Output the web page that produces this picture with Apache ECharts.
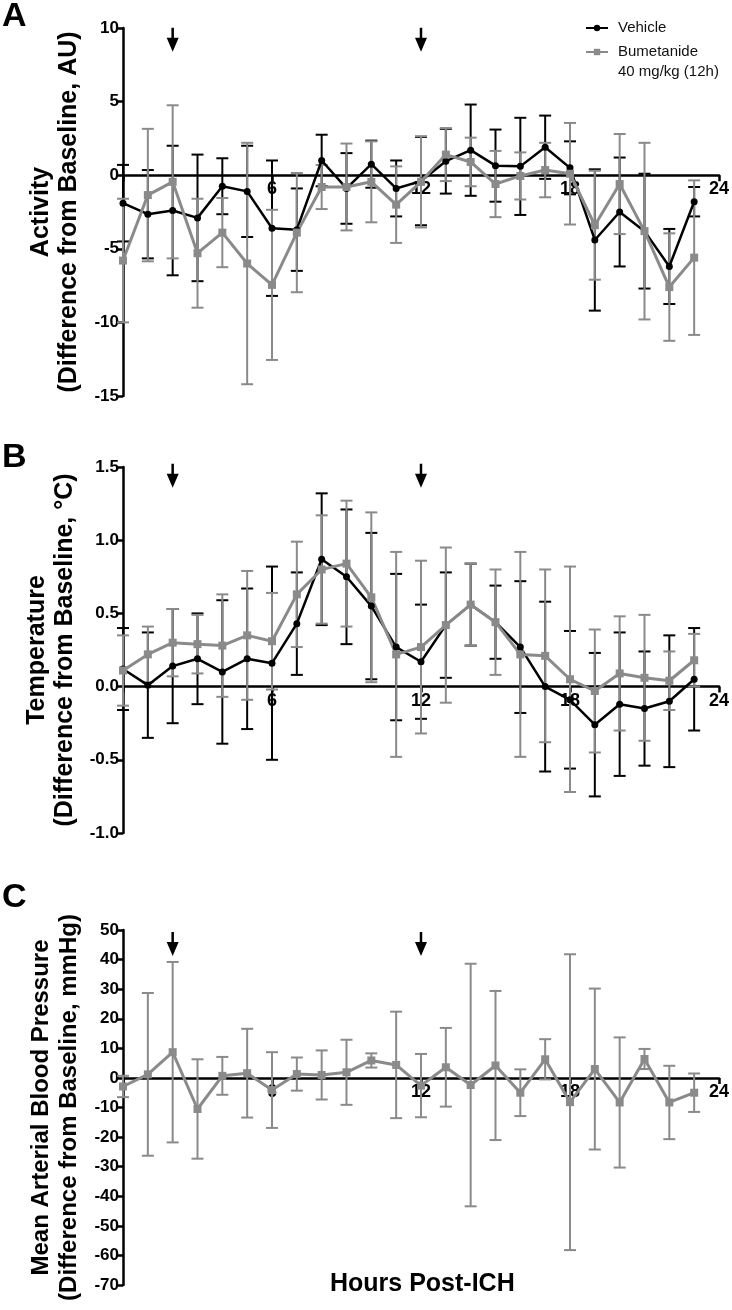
<!DOCTYPE html>
<html>
<head>
<meta charset="utf-8">
<script src="https://cdn.jsdelivr.net/npm/echarts@6/dist/echarts.min.js"></script>
<style>
  html, body { margin: 0; padding: 0; background: #fff; }
  #chart { width: 732px; height: 1310px; }
</style>
</head>
<body>
<div id="chart"></div>
<script>
// ---------- DATA ----------
const hours = [0,1,2,3,4,5,6,7,8,9,10,11,12,13,14,15,16,17,18,19,20,21,22,23];
const xTicks = [6, 12, 18, 24];
const arrowHours = [2, 12];

// Panel A: Activity (difference from baseline, AU), mean and SEM
const actVehicle    = [-1.9, -2.65, -2.4, -2.9, -0.75, -1.1, -3.6, -3.7, 1.0, -0.9, 0.75, -0.9, -0.4, 0.95, 1.7, 0.65, 0.6, 1.9, 0.5, -4.4, -2.5, -3.8, -6.2, -1.8];
const actVehicleSem = [2.6, 3.0, 4.4, 4.3, 1.9, 3.1, 4.6, 2.8, 1.75, 2.4, 1.6, 1.9, 3.0, 2.2, 3.1, 2.45, 3.3, 2.15, 1.8, 4.8, 3.7, 3.9, 2.55, 1.0];
const actBumet      = [-5.8, -1.35, -0.45, -5.3, -3.9, -6.0, -7.45, -3.9, -0.8, -0.8, -0.45, -2.0, -0.45, 1.4, 0.9, -0.6, -0.05, 0.35, 0.1, -3.4, -0.6, -3.8, -7.6, -5.6];
const actBumetSem   = [4.2, 4.5, 5.2, 3.7, 2.35, 8.2, 5.1, 4.05, 1.5, 2.95, 2.75, 2.6, 3.1, 1.8, 1.65, 2.25, 1.6, 1.85, 3.45, 3.7, 3.4, 6.0, 3.65, 5.25];

// Panel B: Temperature (difference from baseline, °C)
const tempVehicle    = [0.12, 0.01, 0.14, 0.19, 0.10, 0.19, 0.16, 0.43, 0.87, 0.75, 0.55, 0.27, 0.17, 0.42, 0.56, 0.44, 0.27, 0.0, -0.09, -0.26, -0.12, -0.15, -0.10, 0.05];
const tempVehicleSem = [0.28, 0.36, 0.39, 0.31, 0.49, 0.48, 0.66, 0.35, 0.45, 0.46, 0.50, 0.50, 0.39, 0.36, 0.28, 0.25, 0.45, 0.58, 0.47, 0.49, 0.49, 0.39, 0.45, 0.35];
const tempBumet      = [0.11, 0.22, 0.30, 0.29, 0.28, 0.35, 0.31, 0.63, 0.80, 0.84, 0.61, 0.22, 0.27, 0.42, 0.56, 0.44, 0.22, 0.21, 0.05, -0.03, 0.09, 0.06, 0.04, 0.18];
const tempBumetSem   = [0.24, 0.19, 0.23, 0.20, 0.35, 0.44, 0.33, 0.36, 0.37, 0.43, 0.58, 0.70, 0.59, 0.53, 0.28, 0.36, 0.70, 0.59, 0.77, 0.42, 0.39, 0.43, 0.20, 0.18];

// Panel C: Mean arterial blood pressure (difference from baseline, mmHg)
const mapBumet    = [-2.9, 1.2, 8.7, -10.5, 0.7, 1.6, -4.1, 1.3, 1.0, 1.9, 5.9, 4.4, -2.6, 3.6, -2.4, 4.2, -5.0, 6.3, -8.2, 3.0, -8.3, 6.4, -8.3, -5.0];
const mapBumetSem = [3.6, 27.5, 30.5, 16.8, 6.4, 15.0, 12.8, 5.6, 8.3, 11.0, 2.4, 18.0, 10.7, 13.3, 41.0, 25.2, 7.9, 6.8, 50.0, 27.2, 22.0, 3.4, 12.4, 6.5];

const VEH = 'Vehicle';
const BUM = 'Bumetanide 40 mg/kg (12h)';

// ---------- STYLE / LAYOUT ----------
const FONT = '"Liberation Sans", Arial, Helvetica, sans-serif';
const BLACK = '#000000';
const GRAY = '#8a8a8a';

const grids = [
  { left: 123, top: 28, width: 599, height: 368 },
  { left: 123, top: 467, width: 599, height: 366 },
  { left: 123, top: 930, width: 599, height: 355 }
];
const yRanges = [[-15, 10, 5], [-1, 1.5, 0.5], [-70, 50, 10]];

function pairs(xs, ys) { return xs.map((x, i) => [x, ys[i]]); }
function errData(xs, m, s) { return xs.map((x, i) => [x, m[i] - s[i], m[i] + s[i]]); }

function errSeries(idx, data, color) {
  return {
    type: 'custom', name: 'err', xAxisIndex: idx, yAxisIndex: idx, silent: true,
    encode: { x: 0, y: [1, 2] },
    data: data,
    renderItem: function (params, api) {
      const x = api.value(0);
      const lo = api.coord([x, api.value(1)]);
      const hi = api.coord([x, api.value(2)]);
      const hw = 6;
      const st = { stroke: color, lineWidth: 2 };
      return {
        type: 'group',
        children: [
          { type: 'line', shape: { x1: lo[0], y1: lo[1], x2: hi[0], y2: hi[1] }, style: st },
          { type: 'line', shape: { x1: lo[0] - hw, y1: lo[1], x2: lo[0] + hw, y2: lo[1] }, style: st },
          { type: 'line', shape: { x1: hi[0] - hw, y1: hi[1], x2: hi[0] + hw, y2: hi[1] }, style: st }
        ]
      };
    }
  };
}

function lineSeries(idx, name, data, color, symbol, size, width) {
  return {
    type: 'line', name: name, xAxisIndex: idx, yAxisIndex: idx,
    data: data, symbol: symbol, symbolSize: size, showSymbol: true,
    lineStyle: { color: color, width: width },
    itemStyle: { color: color, opacity: 1 },
    emphasis: { disabled: true }
  };
}

const ARROW = 'path://M4.75,0 L7.25,0 L7.25,10 L12,10 L6,24 L0,10 L4.75,10 Z';
function arrowSeries(idx, level) {
  return {
    type: 'scatter', name: 'arrows', xAxisIndex: idx, yAxisIndex: idx, silent: true,
    symbol: ARROW, symbolSize: [12, 24],
    itemStyle: { color: BLACK, opacity: 1 },
    data: arrowHours.map(h => [h, level])
  };
}

// x axis sits on y = 0 (labels move with it), like the original figure
function xAxis(idx) {
  const g = grids[idx], r = yRanges[idx];
  const zeroFromBottom = g.height * (0 - r[0]) / (r[1] - r[0]);
  return {
    gridIndex: idx, type: 'value', min: 0, max: 24, interval: 6,
    offset: -zeroFromBottom,
    axisLine: { show: true, onZero: false, lineStyle: { color: BLACK, width: 2.5 } },
    axisTick: { show: true, length: 6, lineStyle: { color: BLACK, width: 2.5 } },
    axisLabel: {
      color: BLACK, fontSize: 18, fontWeight: 'bold', fontFamily: FONT, margin: 5,
      formatter: v => (xTicks.indexOf(v) >= 0 ? String(v) : '')
    },
    splitLine: { show: false }
  };
}

function yAxis(idx, name, nameSize, fmt) {
  const r = yRanges[idx];
  return {
    gridIndex: idx, type: 'value', min: r[0], max: r[1], interval: r[2],
    axisLine: { show: true, onZero: false, lineStyle: { color: BLACK, width: 2.5 } },
    axisTick: { show: true, length: 6, lineStyle: { color: BLACK, width: 2.5 } },
    axisLabel: { color: BLACK, fontSize: 17, fontWeight: 'bold', fontFamily: FONT, margin: 4, formatter: fmt },
    splitLine: { show: false },
    name: name, nameLocation: 'middle', nameGap: 40,
    nameTextStyle: { color: BLACK, fontSize: nameSize, fontWeight: 'bold', fontFamily: FONT, lineHeight: 28 }
  };
}

const option = {
  animation: false,
  backgroundColor: '#ffffff',
  textStyle: { fontFamily: FONT },
  grid: grids,
  xAxis: [xAxis(0), xAxis(1), xAxis(2)],
  yAxis: [
    yAxis(0, 'Activity\n(Difference from Baseline, AU)', 25, v => String(v)),
    yAxis(1, 'Temperature\n(Difference from Baseline, °C)', 25, v => v.toFixed(1)),
    yAxis(2, 'Mean Arterial Blood Pressure\n(Difference from Baseline, mmHg)', 24, v => String(v))
  ],
  legend: {
    left: 585, top: 18, orient: 'vertical', padding: 0, itemGap: -16,
    itemWidth: 22, itemHeight: 8, selectedMode: false,
    textStyle: { color: '#111', fontSize: 15, lineHeight: 20, fontFamily: FONT, padding: [0, 0, 0, 5] },
    data: [VEH, BUM],
    formatter: function (name) {
      return name === BUM ? ' \nBumetanide\n40 mg/kg (12h)' : name;
    }
  },
  graphic: [
    { type: 'text', left: 2, top: 0, style: { text: 'A', font: 'bold 34px ' + FONT, fill: BLACK } },
    { type: 'text', left: 2, top: 441, style: { text: 'B', font: 'bold 34px ' + FONT, fill: BLACK } },
    { type: 'text', left: 2, top: 881, style: { text: 'C', font: 'bold 34px ' + FONT, fill: BLACK } },
    { type: 'text', left: 330, top: 1272, style: { text: 'Hours Post-ICH', font: 'bold 25px ' + FONT, fill: BLACK } }
  ],
  series: [
    // Panel A
    errSeries(0, errData(hours, actVehicle, actVehicleSem), BLACK),
    lineSeries(0, VEH, pairs(hours, actVehicle), BLACK, 'circle', 7, 2.5),
    errSeries(0, errData(hours, actBumet, actBumetSem), GRAY),
    lineSeries(0, BUM, pairs(hours, actBumet), GRAY, 'rect', 8, 3),
    arrowSeries(0, 9.2),
    // Panel B
    errSeries(1, errData(hours, tempVehicle, tempVehicleSem), BLACK),
    lineSeries(1, VEH, pairs(hours, tempVehicle), BLACK, 'circle', 7, 2.5),
    errSeries(1, errData(hours, tempBumet, tempBumetSem), GRAY),
    lineSeries(1, BUM, pairs(hours, tempBumet), GRAY, 'rect', 8, 3),
    arrowSeries(1, 1.44),
    // Panel C
    errSeries(2, errData(hours, mapBumet, mapBumetSem), GRAY),
    lineSeries(2, BUM, pairs(hours, mapBumet), GRAY, 'rect', 8, 3),
    arrowSeries(2, 45.3)
  ]
};

const chart = echarts.init(document.getElementById('chart'), null, { renderer: 'canvas' });
chart.setOption(option);
</script>
</body>
</html>
